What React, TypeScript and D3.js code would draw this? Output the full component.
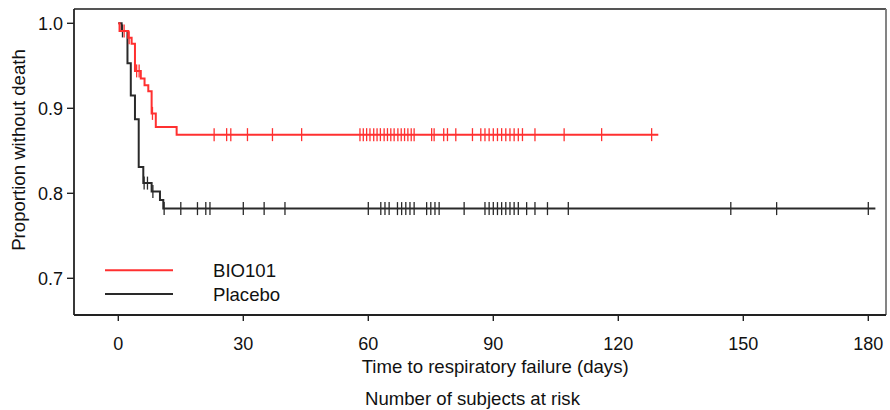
import React from "react";
import * as d3 from "d3";

// ---- Data ----
const bioTimes = [0, 0.3, 2.4, 3.2, 4.0, 5.4, 6.3, 7.2, 8.0, 9.0, 14.0];
const bioSurv = [1.0, 0.991, 0.983, 0.976, 0.944, 0.935, 0.927, 0.92, 0.894, 0.878, 0.869];
const bioEnd = 129.6;
const bioCensor = [1.4, 2.6, 4.4, 5.0, 8.2, 23, 26, 27, 31, 37, 44, 58.0, 58.8, 59.6, 60.4, 61.3, 62.1, 62.9, 63.8, 64.6, 65.4, 66.2, 67.1, 67.9, 68.7, 69.5, 70.3, 71.0, 75.2, 75.8, 78.1, 79.0, 81.0, 85.0, 87.0, 88.0, 89.0, 90.0, 91.0, 92.0, 93.0, 94.0, 95.0, 96.0, 97.0, 100.0, 107.0, 116.0, 128.0];

const plaTimes = [0, 0.8, 2.2, 3.0, 4.0, 4.9, 6.0, 8.0, 10.0, 10.8];
const plaSurv = [1.0, 0.991, 0.953, 0.915, 0.887, 0.831, 0.812, 0.802, 0.792, 0.782];
const plaEnd = 181.7;
const plaCensor = [1.0, 6.2, 7.0, 8.3, 11.0, 15, 19, 21, 22, 30, 35, 40, 60, 63, 64, 65, 67, 68, 69, 70, 71, 74, 75, 76, 77, 83, 88, 89, 90, 91, 92, 93, 94, 95, 96, 98, 100, 103, 108, 147, 158, 180];

const xTicks = [0, 30, 60, 90, 120, 150, 180];
const yTicks = [0.7, 0.8, 0.9, 1.0];
const yTickLabels = ["0.7", "0.8", "0.9", "1.0"];
const seriesNames = ["BIO101", "Placebo"];

const RED = "#ff3030";
const BLACK = "#2a2a2a";
const FONT = "'Liberation Sans', Arial, sans-serif";

function survAt(times: number[], surv: number[], t: number) {
  let s = surv[0];
  for (let i = 0; i < times.length; i++) if (times[i] <= t) s = surv[i];
  return s;
}

export default function App() {
  const x = d3.scaleLinear().domain([0, 180]).range([118.3, 868.3]);
  const y = d3.scaleLinear().domain([0.7, 1.0]).range([278.3, 23.3]);
  const left = 74, right = 886, top = 9, bottom = 315;

  const line = d3
    .line<[number, number]>()
    .x((d) => x(d[0]))
    .y((d) => y(d[1]))
    .curve(d3.curveStepAfter);

  const mk = (times: number[], surv: number[], end: number): [number, number][] => {
    const pts: [number, number][] = times.map((t, i) => [t, surv[i]]);
    pts.push([end, surv[surv.length - 1]]);
    return pts;
  };

  const series = [
    { name: seriesNames[1], times: plaTimes, surv: plaSurv, end: plaEnd, censor: plaCensor, color: BLACK },
    { name: seriesNames[0], times: bioTimes, surv: bioSurv, end: bioEnd, censor: bioCensor, color: RED },
  ];

  return (
    <svg width={890} height={410} style={{ position: "absolute", left: 0, top: 0, background: "#fff" }} fontFamily={FONT}>
      <rect x={0} y={0} width={890} height={410} fill="#fff" />
      {/* frame */}
      <line x1={left} y1={top} x2={right} y2={top} stroke="#555" strokeWidth={1.8} />
      <line x1={right} y1={top} x2={right} y2={bottom} stroke="#777" strokeWidth={1.8} />
      <line x1={left} y1={top} x2={left} y2={bottom} stroke="#222" strokeWidth={1.8} />
      <line x1={left} y1={bottom} x2={right} y2={bottom} stroke="#222" strokeWidth={1.8} />

      {/* y ticks */}
      {yTicks.map((v, i) => (
        <g key={"y" + i}>
          <line x1={67} x2={left} y1={y(v)} y2={y(v)} stroke="#222" strokeWidth={1.4} />
          <text x={63} y={y(v)} dy="0.36em" textAnchor="end" fontSize={18} fill="#111">
            {yTickLabels[i]}
          </text>
        </g>
      ))}
      {/* x ticks */}
      {xTicks.map((v) => (
        <g key={"x" + v}>
          <line x1={x(v)} x2={x(v)} y1={bottom} y2={321} stroke="#222" strokeWidth={1.4} />
          <text x={x(v)} y={349.5} textAnchor="middle" fontSize={18} fill="#111">
            {v}
          </text>
        </g>
      ))}

      {/* curves */}
      {series.map((s) => (
        <g key={s.name}>
          <path d={line(mk(s.times, s.surv, s.end)) || ""} fill="none" stroke={s.color} strokeWidth={2} />
          {s.censor.map((c, i) => {
            const cy = y(survAt(s.times, s.surv, c));
            return <line key={i} x1={x(c)} x2={x(c)} y1={cy - 6.5} y2={cy + 6.5} stroke={s.color} strokeWidth={1.3} />;
          })}
        </g>
      ))}

      {/* legend */}
      <line x1={105} x2={173} y1={270.3} y2={270.3} stroke={RED} strokeWidth={2} />
      <text x={213} y={277} fontSize={18.6} fill="#111">{seriesNames[0]}</text>
      <line x1={105} x2={173} y1={294} y2={294} stroke={BLACK} strokeWidth={2} />
      <text x={213} y={300.5} fontSize={18.6} fill="#111">{seriesNames[1]}</text>

      {/* axis titles */}
      <text x={361.7} y={372.5} fontSize={18.6} fill="#111">Time to respiratory failure (days)</text>
      <text x={365} y={405} fontSize={18.6} fill="#111">Number of subjects at risk</text>
      <text transform="translate(25,150) rotate(-90)" textAnchor="middle" fontSize={18.6} fill="#111">
        Proportion without death
      </text>
    </svg>
  );
}
